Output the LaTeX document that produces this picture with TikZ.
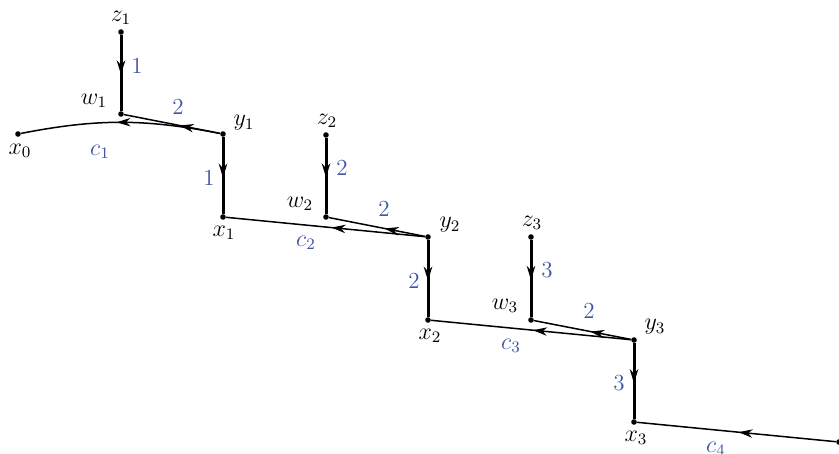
\documentclass[tikz,border=0pt]{standalone}
\usetikzlibrary{arrows.meta,decorations.markings}
\definecolor{lblue}{RGB}{62,84,166}
\begin{document}
\begin{tikzpicture}[x=0.5pt,y=-0.5pt,
  dot/.style={circle,fill=black,inner sep=0pt,minimum size=2.8pt},
  lab/.style={inner sep=0pt,font=\fontsize{11.5}{13}\selectfont},
  blab/.style={inner sep=0pt,text=lblue,font=\fontsize{11.5}{13}\selectfont},
  arr/.style={postaction={decorate},decoration={markings,
     mark=at position #1 with {\arrow{Stealth[length=7pt,width=4.2pt,inset=2.2pt]}}}},
  arr/.default=0.5,
  thk/.style={line width=1.5pt},
  thn/.style={line width=0.75pt}]
\useasboundingbox (0,0) rectangle (839,454);
% points
\node[dot] (z1) at (121,32) {};
\node[dot] (w1) at (121,114) {};
\node[dot] (y1) at (223,134) {};
\node[dot] (x0) at (18,134) {};
\node[dot] (x1) at (223,217) {};
\node[dot] (z2) at (326,135) {};
\node[dot] (w2) at (326,217) {};
\node[dot] (y2) at (428,237) {};
\node[dot] (x2) at (428,320) {};
\node[dot] (z3) at (531,237) {};
\node[dot] (w3) at (531,320) {};
\node[dot] (y3) at (634,340) {};
\node[dot] (x3) at (634,422) {};
\node[dot] (x4) at (839,442) {};
% edges
\draw[thk,arr=0.52] (z1) -- (w1);
\draw[thn,arr=0.42] (y1) -- (w1);
\draw[thn,arr=0.52] (y1) to[bend right=11] (x0);
\draw[thk,arr=0.53] (y1) -- (x1);
\draw[thk,arr=0.52] (z2) -- (w2);
\draw[thn,arr=0.42] (y2) -- (w2);
\draw[thn,arr=0.47] (y2) -- (x1);
\draw[thk,arr=0.53] (y2) -- (x2);
\draw[thk,arr=0.52] (z3) -- (w3);
\draw[thn,arr=0.42] (y3) -- (w3);
\draw[thn,arr=0.49] (y3) -- (x2);
\draw[thk,arr=0.53] (y3) -- (x3);
\draw[thn,arr=0.49] (x4) -- (x3);
% vertex labels
\node[lab] (lz1) at (121,18) {$z_1$};
\node[lab] (lw1) at (94,101) {$w_1$};
\node[lab] (ly1) at (244,123) {$y_1$};
\node[lab] (lx0) at (20,151) {$x_0$};
\node[lab] (lx1) at (224,233) {$x_1$};
\node[lab] (lz2) at (327,121) {$z_2$};
\node[lab] (lw2) at (300,204) {$w_2$};
\node[lab] (ly2) at (450,225) {$y_2$};
\node[lab] (lx2) at (430,336) {$x_2$};
\node[lab] (lz3) at (532,223) {$z_3$};
\node[lab] (lw3) at (505,306) {$w_3$};
\node[lab] (ly3) at (655,327) {$y_3$};
\node[lab] (lx3) at (636,438) {$x_3$};
% weights
\node[blab] (b1) at (137,66) {1};
\node[blab] (b2) at (178,107) {2};
\node[blab] (bc1) at (100,152) {$c_1$};
\node[blab] (b3) at (209,178) {1};
\node[blab] (b4) at (342,168) {2};
\node[blab] (b5) at (384,209) {2};
\node[blab] (bc2) at (306,243) {$c_2$};
\node[blab] (b6) at (414,281) {2};
\node[blab] (b7) at (547,270) {3};
\node[blab] (b8) at (589,311) {2};
\node[blab] (bc3) at (511,346) {$c_3$};
\node[blab] (b9) at (619,383) {3};
\node[blab] (bc4) at (716,449) {$c_4$};
\end{tikzpicture}
\end{document}
